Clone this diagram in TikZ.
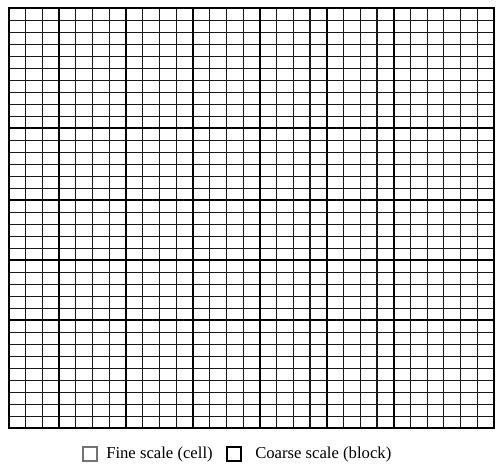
\documentclass[tikz,border=0pt]{standalone}
\usepackage{fontspec}
\setmainfont{Liberation Serif}
\begin{document}
\begin{tikzpicture}[x=0.75pt,y=-0.75pt,
  fineline/.style={line width=0.9pt,black!90},
  coarseline/.style={line width=1.7pt,black},
  legendtext/.style={anchor=west,inner sep=0pt,font=\fontsize{12.5}{15}\selectfont}]
\useasboundingbox (0,0) rectangle (501,467);
\def\xo{9}\def\cw{16.724}\def\yo{8.3}\def\ch{12}
% fine grid
\foreach \i in {1,...,28} \draw[fineline] ({\xo+\i*\cw},\yo) -- ({\xo+\i*\cw},{\yo+35*\ch});
\foreach \j in {1,...,34} \draw[fineline] (\xo,{\yo+\j*\ch}) -- ({\xo+29*\cw},{\yo+\j*\ch});
% coarse grid
\foreach \i in {3,7,11,15,19,23} \draw[coarseline] ({\xo+\i*\cw},\yo) -- ({\xo+\i*\cw},{\yo+35*\ch});
\foreach \j in {10,16,21,26} \draw[coarseline] (\xo,{\yo+\j*\ch}) -- ({\xo+29*\cw},{\yo+\j*\ch});
\draw[coarseline] (\xo,\yo) rectangle ({\xo+29*\cw},{\yo+35*\ch});
% legend
\draw[line width=0.8pt,black!55] (83,447) rectangle (97,461);
\node[legendtext] (fine) at (106,454) {Fine scale (cell)};
\draw[line width=1.7pt,black] (227,447) rectangle (241,461);
\node[legendtext] (coarse) at (255,454) {Coarse scale (block)};
\end{tikzpicture}
\end{document}
